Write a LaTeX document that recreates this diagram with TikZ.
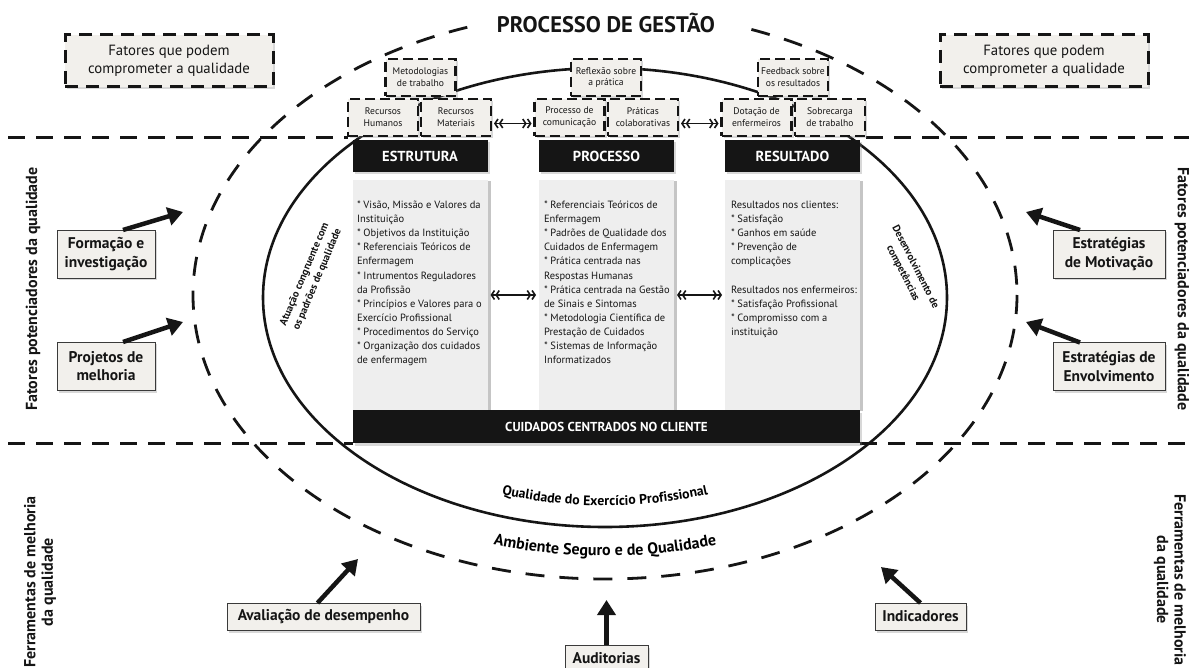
\documentclass[tikz,border=0pt]{standalone}
\usepackage{fontspec}
\setmainfont{PT Sans}
\usetikzlibrary{arrows.meta,shadows,decorations.text}
\definecolor{ink}{HTML}{151515}
\definecolor{paper}{HTML}{F2F0EC}
\definecolor{panelgray}{HTML}{EEEEEE}
\definecolor{frame}{HTML}{3A3A3A}

\begin{document}
\begin{tikzpicture}[x=1pt,y=-1pt,
  every node/.style={inner sep=0pt,outer sep=0pt,text=ink},
  softshadow/.style={drop shadow={opacity=0.3,shadow xshift=2pt,shadow yshift=-2.5pt}},
  zoneline/.style={draw=ink,line width=3pt,dash pattern=on 17pt off 11pt},
  ringline/.style={draw=ink,line width=2.8pt,dash pattern=on 19pt off 15pt},
  coreline/.style={draw=ink,line width=2.6pt},
  riskbox/.style={draw=ink,line width=3pt,dash pattern=on 13pt off 8pt,fill=paper,
    minimum width=208pt,minimum height=52pt,align=center,
    font=\fontsize{14.8}{18.5}\selectfont,softshadow},
  factorbox/.style={draw=ink,line width=2.4pt,dash pattern=on 10pt off 5pt,fill=paper,
    minimum width=70pt,minimum height=37pt,align=center,
    font=\fontsize{9.6}{11.8}\selectfont,softshadow},
  colhead/.style={fill=ink,text=white,minimum width=135pt,minimum height=32pt,
    font=\fontsize{14.5}{14.5}\bfseries\selectfont,softshadow},
  colbody/.style={fill=panelgray,minimum width=135pt,minimum height=230pt,
    drop shadow={opacity=0.45,shadow xshift=3pt,shadow yshift=-1pt}},
  bodytext/.style={anchor=north west,align=left,font=\fontsize{10.5}{14.1}\selectfont},
  sidebox/.style={draw=frame,line width=0.9pt,fill=paper,align=center,
    font=\fontsize{15.5}{18.5}\bfseries\selectfont,softshadow},
  sidelabel/.style={align=center,font=\fontsize{16}{17.5}\bfseries\selectfont},
  innerlabel/.style={align=center,font=\fontsize{10.5}{14}\bfseries\selectfont},
  bigarrow/.style={draw=ink,line width=4.5pt,-{Triangle[length=15pt,width=18pt]}},
  dblarrow/.style={draw=ink,line width=1.6pt,>={Straight Barb[length=3pt,width=9pt]},<<->>,
    shorten <=3pt,shorten >=3pt},
]
\useasboundingbox (0,0) rectangle (1189,668);
\fill[white] (0,0) rectangle (1189,668);

% zone separators
\draw[zoneline] (8,138) -- (348,138);
\draw[zoneline] (866,138) -- (1189,138);
\draw[zoneline] (8,443) -- (353,443);
\draw[zoneline] (860,443) -- (1189,443);

% environment ring and practice ellipse
\draw[ringline] (605,295) ellipse[x radius=412,y radius=284];
\draw[coreline] (605,297.5) ellipse[x radius=342,y radius=229.5];

% title over the ring
\node[fill=white,inner xsep=24pt,inner ysep=6pt,font=\fontsize{22.5}{22.5}\bfseries\selectfont]
  (title) at (606,23) {PROCESSO DE GESTÃO};

% threats
\node[riskbox] (riskL) at (169,61) {Fatores que podem\\comprometer a qualidade};
\node[riskbox] (riskR) at (1044,61) {Fatores que podem\\comprometer a qualidade};

% columns
\node[colbody] (bodyE) at (420,295) {};
\node[colbody] (bodyP) at (606.5,295) {};
\node[colbody] (bodyR) at (792.5,295) {};
\node[colhead] (headE) at (420,156) {ESTRUTURA};
\node[colhead] (headP) at (606.5,156) {PROCESSO};
\node[colhead] (headR) at (792.5,156) {RESULTADO};
\node[fill=ink,text=white,minimum width=507pt,minimum height=33pt,softshadow,
  font=\fontsize{13}{13}\bfseries\selectfont] (client) at (606.5,426.5)
  {CUIDADOS CENTRADOS NO CLIENTE};

\node[bodytext] (txtE) at (357,201) {* Visão, Missão e Valores da\\Instituição\\* Objetivos da Instituição\\* Referenciais Teóricos de\\Enfermagem\\* Intrumentos Reguladores\\da Profissão\\* Princípios e Valores para o\\Exercício Profissional\\* Procedimentos do Serviço\\* Organização dos cuidados\\de enfermagem};
\node[bodytext] (txtP) at (544,201) {* Referenciais Teóricos de\\Enfermagem\\* Padrões de Qualidade dos\\Cuidados de Enfermagem\\* Prática centrada nas\\Respostas Humanas\\* Prática centrada na Gestão\\de Sinais e Sintomas\\* Metodologia Científica de\\Prestação de Cuidados\\* Sistemas de Informação\\Informatizados};
\node[bodytext] (txtR) at (731,201) {Resultados nos clientes:\\* Satisfação\\* Ganhos em saúde\\* Prevenção de\\complicações\\[14.1pt]Resultados nos enfermeiros:\\* Satisfação Profissional\\* Compromisso com a\\instituição};

% factor boxes
\node[factorbox] (rh) at (383,117.5) {Recursos\\Humanos};
\node[factorbox] (rm) at (456,117.5) {Recursos\\Materiais};
\node[factorbox] (met) at (420.5,77.5) {Metodologias\\de trabalho};
\node[factorbox] (pc) at (569.5,117.5) {Processo de\\comunicação};
\node[factorbox] (pcol) at (643,117.5) {Práticas\\colaborativas};
\node[factorbox] (refl) at (606,77.5) {Reflexão sobre\\a prática};
\node[factorbox] (dot) at (756.5,117.5) {Dotação de\\enfermeiros};
\node[factorbox] (sob) at (830,117.5) {Sobrecarga\\de trabalho};
\node[factorbox] (feed) at (793,77.5) {Feedback sobre\\os resultados};

% links between columns
\draw[dblarrow] ([yshift=-6pt]rm.east) -- ([yshift=-6pt]pc.west);
\draw[dblarrow] ([yshift=-6pt]pcol.east) -- ([yshift=-6pt]dot.west);
\draw[dblarrow] (bodyE) -- (bodyP);
\draw[dblarrow] (bodyP) -- (bodyR);

% labels inside the ellipse
\node[innerlabel,rotate=67] (congr) at (311,277)
  {Atuação congruente com\\os padrões de qualidade};
\node[innerlabel,rotate=-63] (compet) at (909,270)
  {Desenvolvimento de\\competências};
\path[decorate,decoration={text along path,text align=center,
  text={|\fontsize{13.8}{13.8}\bfseries\selectfont|Qualidade do Exercício Profissional}}]
  (469.8,486.0) arc[start angle=115,end angle=65,x radius=320,y radius=208];
\path[decorate,decoration={text along path,text align=center,
  text={|\fontsize{16}{16}\bfseries\selectfont|Ambiente Seguro e de Qualidade}}]
  (442.3,531.5) arc[start angle=115,end angle=65,x radius=385,y radius=261];

% enabling factors
\node[sidebox,minimum width=98pt,minimum height=48pt] (form) at (106,254) {Formação e\\investigação};
\node[sidebox,minimum width=98pt,minimum height=48pt] (proj) at (106,366) {Projetos de\\melhoria};
\node[sidebox,minimum width=112pt,minimum height=48pt] (motiv) at (1109,254) {Estratégias\\de Motivação};
\node[sidebox,minimum width=112pt,minimum height=48pt] (envol) at (1109,366.5) {Estratégias de\\Envolvimento};
\coordinate (tipForm) at (183,212);
\coordinate (tipProj) at (183,322);
\coordinate (tipMotiv) at (1026,212);
\coordinate (tipEnvol) at (1026,322);
\draw[bigarrow] ([xshift=-32pt]form.north east) -- (tipForm);
\draw[bigarrow] ([xshift=-32pt]proj.north east) -- (tipProj);
\draw[bigarrow] ([xshift=27pt]motiv.north west) -- (tipMotiv);
\draw[bigarrow] ([xshift=27pt]envol.north west) -- (tipEnvol);

% improvement tools
\node[sidebox,minimum width=193pt,minimum height=27pt] (aval) at (323.5,616.5) {Avaliação de desempenho};
\node[sidebox,minimum width=83pt,minimum height=27pt] (audit) at (606.5,658.5) {Auditorias};
\node[sidebox,minimum width=91pt,minimum height=27pt] (indic) at (920.5,616.5) {Indicadores};
\coordinate (tipAval) at (358,559);
\coordinate (tipAudit) at (606.5,600);
\coordinate (tipIndic) at (881,567);
\draw[bigarrow] ([xshift=-6pt]aval.north) -- (tipAval);
\draw[bigarrow] (audit.north) -- (tipAudit);
\draw[bigarrow] (indic.north) -- (tipIndic);

% zone titles
\node[sidelabel,rotate=90] (zoneTL) at (33,289) {Fatores potenciadores da qualidade};
\node[sidelabel,rotate=-90] (zoneTR) at (1182,289) {Fatores potenciadores da qualidade};
\node[sidelabel,rotate=90] (zoneBL) at (40,582) {Ferramentas de melhoria\\da qualidade};
\node[sidelabel,rotate=-90] (zoneBR) at (1170,580) {Ferramentas de melhoria\\da qualidade};
\end{tikzpicture}
\end{document}
